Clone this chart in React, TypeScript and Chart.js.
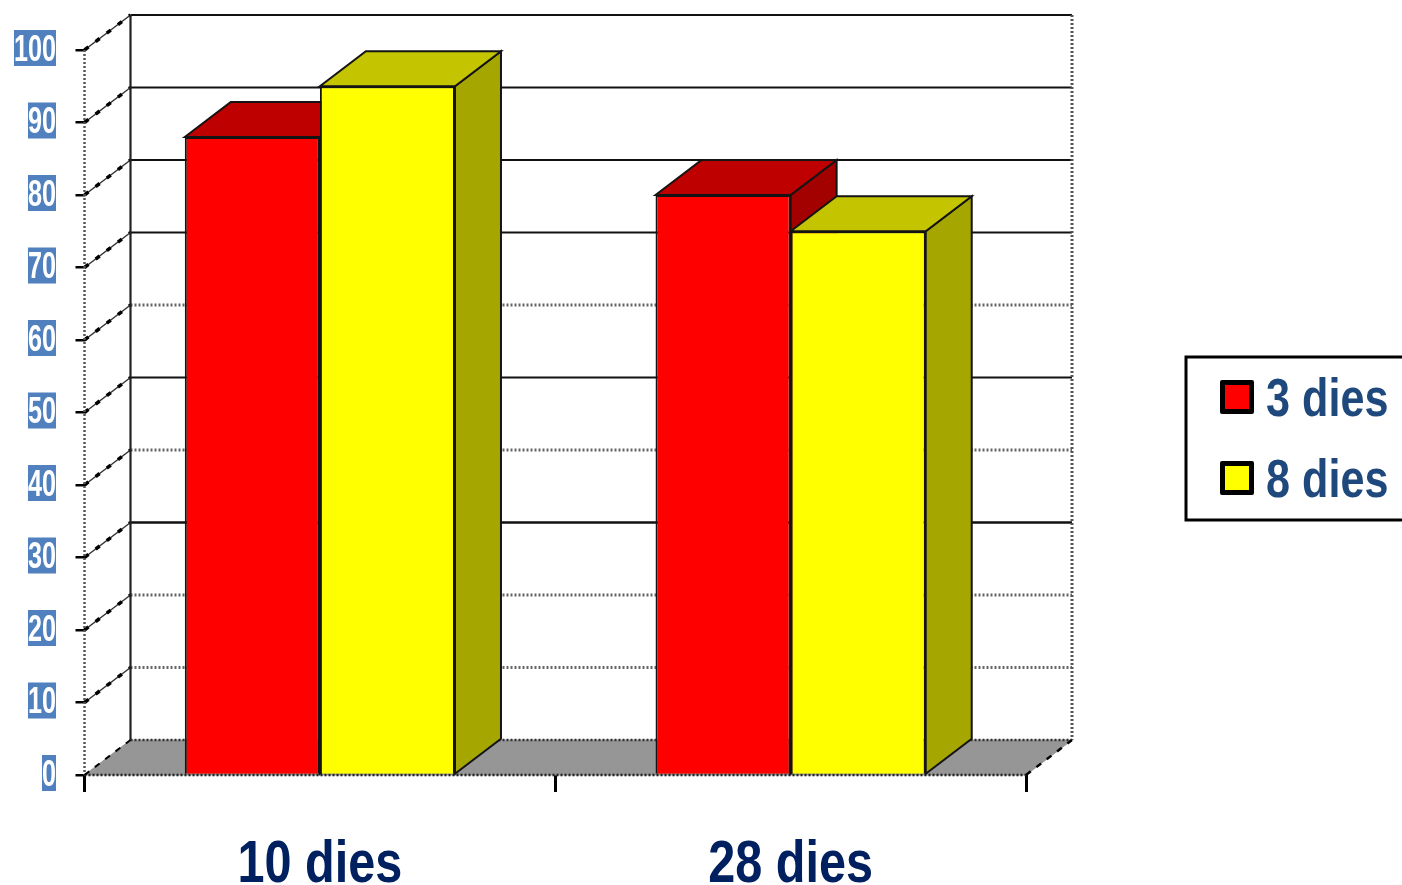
import React, { useEffect, useRef } from "react";
import { Chart, registerables } from "chart.js";

Chart.register(...registerables);

const categories = ["10 dies", "28 dies"];
const seriesNames = ["3 dies", "8 dies"];
const values3Dies = [88, 80];
const values8Dies = [95, 75];
const dottedGridValues = [60, 40, 20, 10];
const frontColors = ["#FF0000", "#FFFF00"];
const topColors = ["#BF0000", "#C4C400"];
const sideColors = ["#A30000", "#A6A600"];

const FONT = '"Liberation Sans", Arial, sans-serif';
const DEPTH_X = 46;
const DEPTH_Y = 35;

function polygon(ctx: CanvasRenderingContext2D, pts: number[][], fill: string, stroke = "#141414", lw = 2) {
  ctx.beginPath();
  pts.forEach(([x, y], i) => (i ? ctx.lineTo(x, y) : ctx.moveTo(x, y)));
  ctx.closePath();
  ctx.fillStyle = fill;
  ctx.fill();
  ctx.strokeStyle = stroke;
  ctx.lineWidth = lw;
  ctx.stroke();
}

function line(ctx: CanvasRenderingContext2D, x1: number, y1: number, x2: number, y2: number, color: string, lw: number, dash: number[] = []) {
  ctx.save();
  ctx.beginPath();
  ctx.setLineDash(dash);
  ctx.moveTo(x1, y1);
  ctx.lineTo(x2, y2);
  ctx.strokeStyle = color;
  ctx.lineWidth = lw;
  ctx.stroke();
  ctx.restore();
}

// Text squeezed horizontally, since no condensed face is installed.
function squeezedText(ctx: CanvasRenderingContext2D, text: string, x: number, y: number, squeeze: number, font: string, color: string, align: CanvasTextAlign) {
  ctx.save();
  ctx.translate(x, y);
  ctx.scale(squeeze, 1);
  ctx.font = font;
  ctx.fillStyle = color;
  ctx.textAlign = align;
  ctx.textBaseline = "middle";
  ctx.fillText(text, 0, 0);
  ctx.restore();
}

// Back wall, side wall and floor of the pseudo-3D box.
const wallsPlugin = {
  id: "walls",
  beforeDatasetsDraw(chart: any) {
    const { ctx, scales } = chart;
    const y = scales.y;
    const x = scales.x;
    const left = x.left;
    const right = x.right;
    const base = y.getPixelForValue(0);
    const top = y.getPixelForValue(100);
    ctx.save();

    polygon(ctx, [[left, base], [right, base], [right + DEPTH_X, base - DEPTH_Y], [left + DEPTH_X, base - DEPTH_Y]], "#969696", "#969696", 1);

    for (let v = 10; v <= 100; v += 10) {
      const py = y.getPixelForValue(v);
      const dotted = dottedGridValues.includes(v);
      const backY = py - DEPTH_Y;
      if (dotted) {
        line(ctx, left + DEPTH_X, backY, right + DEPTH_X, backY, "#666666", 3, [2, 2]);
      } else {
        line(ctx, left + DEPTH_X, backY, right + DEPTH_X, backY, "#111111", v === 30 ? 2.6 : 2);
      }
      line(ctx, left, py, left + DEPTH_X, backY, "#333333", 1.5);
      line(ctx, left, py, left + DEPTH_X, backY, "#000000", 3.5, [5, 9]);
    }

    line(ctx, left + DEPTH_X, base - DEPTH_Y, right + DEPTH_X, base - DEPTH_Y, "#333333", 2.5, [2, 2]);
    line(ctx, left, top, left, base, "#555555", 2.5, [2, 2]);
    line(ctx, left + DEPTH_X, top - DEPTH_Y, left + DEPTH_X, base - DEPTH_Y, "#222222", 2.2);
    line(ctx, right + DEPTH_X, top - DEPTH_Y, right + DEPTH_X, base - DEPTH_Y, "#555555", 3, [2, 2]);
    line(ctx, left, base, right, base, "#222222", 2.6, [2, 2]);
    line(ctx, right, base, right + DEPTH_X, base - DEPTH_Y, "#000000", 2.5, [6, 7]);
    line(ctx, left, base, left + DEPTH_X, base - DEPTH_Y, "#000000", 2, [6, 7]);

    // Top and side faces of each bar, series by series so later ones overlap.
    chart.data.datasets.forEach((_: any, di: number) => {
      chart.getDatasetMeta(di).data.forEach((bar: any) => {
        const l = bar.x - bar.width / 2;
        const r = bar.x + bar.width / 2;
        polygon(ctx, [[r, bar.y], [r + DEPTH_X, bar.y - DEPTH_Y], [r + DEPTH_X, bar.base - DEPTH_Y], [r, bar.base]], sideColors[di]);
        polygon(ctx, [[l, bar.y], [l + DEPTH_X, bar.y - DEPTH_Y], [r + DEPTH_X, bar.y - DEPTH_Y], [r, bar.y]], topColors[di]);
      });
    });
    ctx.restore();
  },
};

// Axis labels, placed from the scales' own ticks.
const axisLabelsPlugin = {
  id: "axisLabels",
  afterDraw(chart: any) {
    const { ctx, scales } = chart;
    scales.y.ticks.forEach((tick: any, i: number) => {
      const py = scales.y.getPixelForTick(i);
      const text = String(tick.value);
      ctx.save();
      ctx.font = `bold 36px ${FONT}`;
      const w = ctx.measureText(text).width * 0.7;
      ctx.fillStyle = "#5080BE";
      ctx.fillRect(56 - w, py - 20, w, 36);
      ctx.restore();
      squeezedText(ctx, text, 56, py + 1, 0.7, `bold 36px ${FONT}`, "#FFFFFF", "right");
    });
    categories.forEach((label, i) => {
      squeezedText(ctx, label, scales.x.getPixelForTick(i), 865, 0.81, `bold 60px ${FONT}`, "#002060", "center");
    });
  },
};

// Framed legend standing at the right of the plot.
const legendBoxPlugin = {
  id: "legendBox",
  afterDraw(chart: any) {
    const { ctx } = chart;
    ctx.save();
    ctx.strokeStyle = "#000000";
    ctx.lineWidth = 3;
    ctx.strokeRect(1186, 357, 240, 163);
    const rows = [397, 478];
    seriesNames.forEach((name, i) => {
      const cy = rows[i];
      ctx.fillStyle = "#000000";
      ctx.beginPath();
      ctx.roundRect(1220, cy - 17, 34, 34, 2);
      ctx.fill();
      ctx.fillStyle = frontColors[i];
      ctx.fillRect(1225, cy - 12, 24, 24);
      squeezedText(ctx, name, 1266, cy + 4, 0.8, `bold 54px ${FONT}`, "#1F497D", "left");
    });
    ctx.restore();
  },
};

export default function App() {
  const ref = useRef<HTMLCanvasElement>(null);
  useEffect(() => {
    const chart = new Chart(ref.current as HTMLCanvasElement, {
      type: "bar",
      data: {
        labels: categories,
        datasets: [
          { label: seriesNames[0], data: values3Dies, backgroundColor: frontColors[0] },
          { label: seriesNames[1], data: values8Dies, backgroundColor: frontColors[1] },
        ],
      },
      plugins: [wallsPlugin, axisLabelsPlugin, legendBoxPlugin],
      options: {
        animation: false,
        responsive: false,
        layout: { padding: { left: 0, top: 50, right: 376, bottom: 0 } },
        plugins: { legend: { display: false }, title: { display: false }, tooltip: { enabled: false } },
        datasets: { bar: { barPercentage: 1, categoryPercentage: 0.574, borderColor: "#141414", borderWidth: 2 } },
        scales: {
          x: {
            afterFit(scale: any) { scale.height = 110; },
            grid: { display: true, drawOnChartArea: false, drawTicks: true, tickLength: 17, color: "#000000", lineWidth: 3, offset: true },
            border: { display: false },
            ticks: { display: false },
          },
          y: {
            min: 0,
            max: 100,
            afterFit(scale: any) { scale.width = 84.5; },
            grid: { display: true, drawOnChartArea: false, drawTicks: true, tickLength: 9, color: "#000000", lineWidth: 2.5 },
            border: { display: false },
            ticks: { stepSize: 10, display: false },
          },
        },
      } as any,
    });
    return () => chart.destroy();
  }, []);
  return (
    <div style={{ position: "fixed", left: 0, top: 0, width: 1402, height: 885, overflow: "hidden", background: "#fff" }}>
      <canvas ref={ref} width={1402} height={885} style={{ display: "block" }} />
    </div>
  );
}
